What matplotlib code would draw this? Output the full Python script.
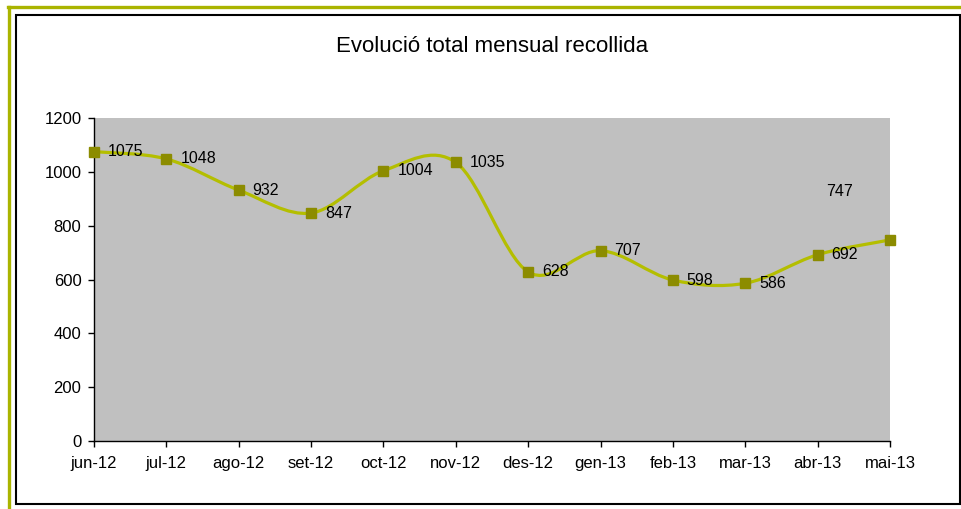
import numpy as np
import matplotlib.pyplot as plt
from matplotlib.path import Path
from matplotlib.patches import PathPatch, Rectangle
from matplotlib.lines import Line2D

plt.rcParams['font.family'] = ['Liberation Sans', 'DejaVu Sans']

months = ['jun-12', 'jul-12', 'ago-12', 'set-12', 'oct-12', 'nov-12',
          'des-12', 'gen-13', 'feb-13', 'mar-13', 'abr-13', 'mai-13']
values = [1075, 1048, 932, 847, 1004, 1035, 628, 707, 598, 586, 692, 747]

W, H = 962, 509
fig = plt.figure(figsize=(W / 100, H / 100), dpi=100)
fig.patch.set_facecolor('white')

# frame: green top/left line and black chart border
fig.add_artist(Line2D([8 / W, 1], [1 - 6.5 / H, 1 - 6.5 / H], color='#aab400', lw=2.4))
fig.add_artist(Line2D([9 / W, 9 / W], [0, 1 - 6.5 / H], color='#aab400', lw=2.4))
fig.add_artist(Rectangle((16 / W, 5 / H), 944 / W, 489 / H, fill=False,
                         edgecolor='black', lw=1.5, transform=fig.transFigure))

ax = fig.add_axes([94 / W, 1 - 441 / H, 796 / W, 323 / H])
ax.set_facecolor('#c0c0c0')

x = np.arange(len(values))
y = np.array(values, dtype=float)

# smoothed line as cubic bezier segments (Excel style)
verts = [(x[0], y[0])]
codes = [Path.MOVETO]
n = len(x)
for i in range(n - 1):
    p0 = np.array([x[max(i - 1, 0)], y[max(i - 1, 0)]])
    p1 = np.array([x[i], y[i]])
    p2 = np.array([x[i + 1], y[i + 1]])
    p3 = np.array([x[min(i + 2, n - 1)], y[min(i + 2, n - 1)]])
    c1 = p1 + (p2 - p0) / 6
    c2 = p2 - (p3 - p1) / 6
    verts += [tuple(c1), tuple(c2), tuple(p2)]
    codes += [Path.CURVE4] * 3
ax.add_patch(PathPatch(Path(verts, codes), fill=False, edgecolor='#b4be00',
                       lw=2.3, zorder=3, clip_on=False))
ax.plot(x, y, ls='none', marker='s', ms=6.5, color='#8c8c00', zorder=4, clip_on=False)

for i, v in enumerate(values):
    if i == len(values) - 1:
        ax.annotate(str(v), (x[i], y[i]), xytext=(-46, 35), textcoords='offset points',
                    fontsize=11.5, va='center', ha='left')
    else:
        ax.annotate(str(v), (x[i], y[i]), xytext=(10, 0), textcoords='offset points',
                    fontsize=11.5, va='center', ha='left')

ax.set_xlim(0, 11)
ax.set_ylim(0, 1200)
ax.set_yticks(range(0, 1201, 200))
ax.set_xticks(x)
ax.set_xticklabels(months)
ax.tick_params(axis='both', direction='out', length=4, width=1, labelsize=12, color='black')
ax.tick_params(axis='x', pad=7)
ax.tick_params(axis='y', pad=5)
for s in ['top', 'right']:
    ax.spines[s].set_visible(False)
for s in ['left', 'bottom']:
    ax.spines[s].set_linewidth(1)

fig.text(492 / W, 1 - 46 / H, 'Evolució total mensual recollida', ha='center', va='center',
         fontsize=16)

fig.savefig('out.png', dpi=100)
